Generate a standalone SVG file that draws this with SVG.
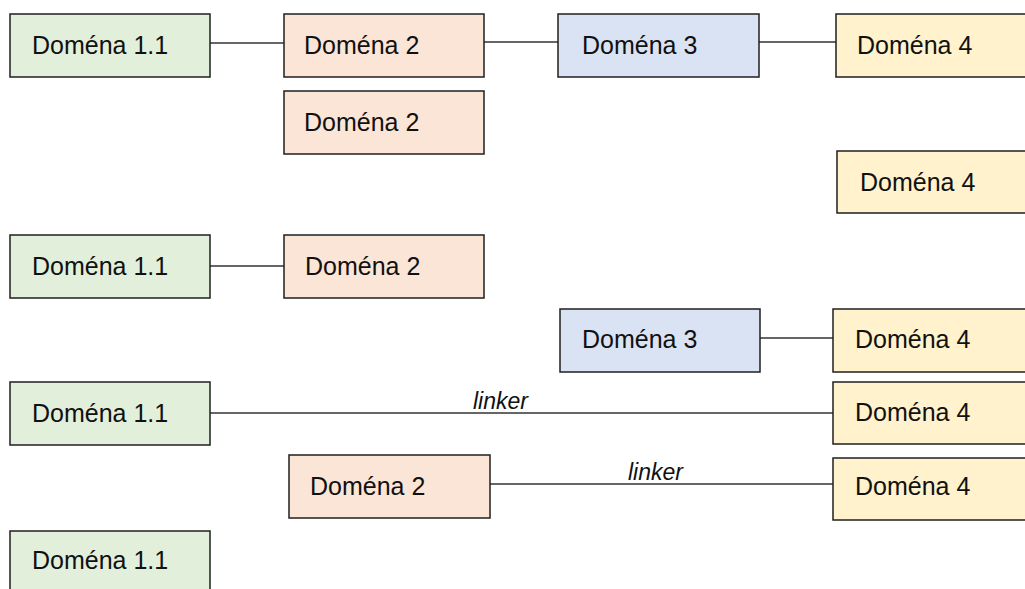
<svg xmlns="http://www.w3.org/2000/svg" width="1025" height="589" viewBox="0 0 1025 589">
<style>
  rect{stroke:#1f1f1f;stroke-width:1.5}
  .g{fill:#E2EFDA}.o{fill:#FBE5D6}.b{fill:#DAE3F3}.y{fill:#FFF2CC}
  text{font-family:"Liberation Sans",Arial,sans-serif;font-size:25px;fill:#111}
  .lk{font-style:italic;font-size:23px}
  #connectors line{stroke:#333;stroke-width:1.3}
</style>
<rect width="1025" height="589" fill="#fff" style="stroke:none"/>
<g id="connectors">
  <line x1="210" y1="43" x2="284" y2="43"/>
  <line x1="484" y1="42" x2="558" y2="42"/>
  <line x1="759" y1="42" x2="836" y2="42"/>
  <line x1="210" y1="266" x2="284" y2="266"/>
  <line x1="760" y1="338" x2="833" y2="338"/>
  <line x1="210" y1="413" x2="833" y2="413"/>
  <line x1="490" y1="484" x2="833" y2="484"/>
  <text class="lk" x="473" y="409">linker</text>
  <text class="lk" x="628" y="480">linker</text>
</g>
<g id="d11a"><rect class="g" x="10" y="14" width="200" height="63"/><text x="32" y="54">Doména 1.1</text></g>
<g id="d2a"><rect class="o" x="284" y="14" width="200" height="63"/><text x="304" y="54">Doména 2</text></g>
<g id="d3a"><rect class="b" x="558" y="14" width="201" height="63"/><text x="582" y="54">Doména 3</text></g>
<g id="d4a"><rect class="y" x="836" y="14" width="200" height="63"/><text x="857" y="54">Doména 4</text></g>
<g id="d2b"><rect class="o" x="284" y="91" width="200" height="63"/><text x="304" y="131">Doména 2</text></g>
<g id="d4b"><rect class="y" x="837" y="151" width="200" height="62"/><text x="860" y="191">Doména 4</text></g>
<g id="d11b"><rect class="g" x="10" y="235" width="200" height="63"/><text x="32" y="275">Doména 1.1</text></g>
<g id="d2c"><rect class="o" x="284" y="235" width="200" height="63"/><text x="305" y="275">Doména 2</text></g>
<g id="d3b"><rect class="b" x="560" y="309" width="200" height="63"/><text x="582" y="348">Doména 3</text></g>
<g id="d4c"><rect class="y" x="833" y="309" width="200" height="63"/><text x="855" y="348">Doména 4</text></g>
<g id="d11c"><rect class="g" x="10" y="382" width="200" height="63"/><text x="32" y="422">Doména 1.1</text></g>
<g id="d4d"><rect class="y" x="833" y="382" width="200" height="62"/><text x="855" y="421">Doména 4</text></g>
<g id="d2d"><rect class="o" x="289" y="455" width="201" height="63"/><text x="310" y="495">Doména 2</text></g>
<g id="d4e"><rect class="y" x="833" y="458" width="200" height="62"/><text x="855" y="495">Doména 4</text></g>
<g id="d11d"><rect class="g" x="10" y="531" width="200" height="70"/><text x="32" y="569">Doména 1.1</text></g>
</svg>
